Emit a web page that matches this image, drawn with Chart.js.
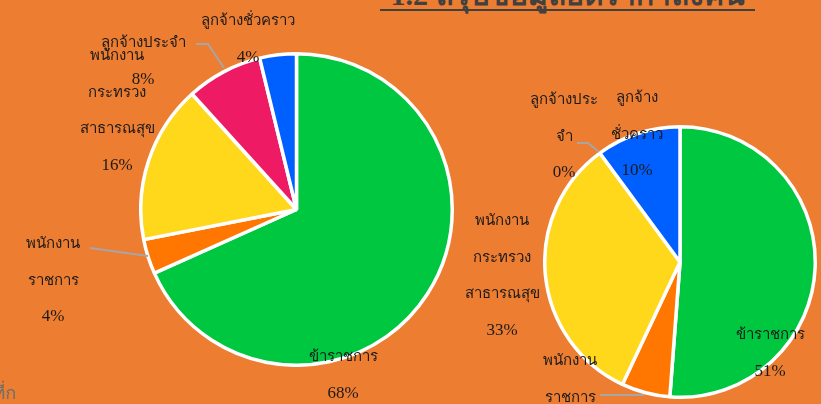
<!DOCTYPE html>
<html>
<head>
<meta charset="utf-8">
<script src="https://cdn.jsdelivr.net/npm/chart.js@4.4.0/dist/chart.umd.min.js"></script>
<style>
  html,body{margin:0;padding:0;}
  body{width:821px;height:404px;background:#ED7D31;position:relative;overflow:hidden;font-family:"Liberation Serif","DejaVu Serif",serif;}
  .cv{position:absolute;}
  .lbl{position:absolute;text-align:center;color:#1a1a1a;font-size:17px;line-height:36.5px;white-space:nowrap;}
  .lbl .th{font-size:15px;}
  #title{position:absolute;left:380px;width:375px;top:-29px;text-align:center;font-size:30px;font-weight:bold;color:#404040;white-space:nowrap;}
  #uline{position:absolute;left:380px;width:375px;top:9px;height:2px;background:#404040;}
  #foot{position:absolute;right:805px;top:378px;font-size:18px;color:#6F6F6F;white-space:nowrap;}
  svg{position:absolute;left:0;top:0;}
</style>
</head>
<body>
<div id="title">1.2 สรุปข้อมูลอัตรากำลังคน</div>
<div id="uline"></div>
<div id="foot">ที่ก</div>
<canvas id="c1" class="cv" style="left:139px;top:52px;" width="315" height="315"></canvas>
<canvas id="c2" class="cv" style="left:543px;top:125px;" width="274" height="274"></canvas>
<svg width="821" height="404">
  <polyline points="196,44 208,44 224,68" fill="none" stroke="#A6A6A6" stroke-width="2"/>
  <polyline points="90,248 148,256" fill="none" stroke="#A6A6A6" stroke-width="2"/>
  <polyline points="577,143 588,143 599,152" fill="none" stroke="#A6A6A6" stroke-width="2"/>
  <polyline points="600,395 644,395" fill="none" stroke="#A6A6A6" stroke-width="2"/>
</svg>
<div id="labels"></div>
<script>
// ---- data ----
const categories = ['ข้าราชการ','พนักงานราชการ','พนักงานกระทรวงสาธารณสุข','ลูกจ้างประจำ','ลูกจ้างชั่วคราว'];
const leftValues  = [68.3, 3.6, 16.4, 7.9, 3.8];
const rightValues = [51.2, 5.8, 32.9, 0, 10.1];
const leftLabelLines = [['ข้าราชการ'],['พนักงาน','ราชการ'],['พนักงาน','กระทรวง','สาธารณสุข'],['ลูกจ้างประจำ'],['ลูกจ้างชั่วคราว']];
const rightLabelLines = [['ข้าราชการ'],['พนักงาน','ราชการ'],['พนักงาน','กระทรวง','สาธารณสุข'],['ลูกจ้างประ','จำ'],['ลูกจ้าง','ชั่วคราว']];
const sliceColors = ['#00C740','#FF7700','#FFD81C','#EE1B64','#0060FF'];

// ---- layout (label block centre x, first line centre y) ----
const leftLabelPos  = [[343,356],[53,243],[117,55],[143,42],[248,20]];
const rightLabelPos = [[770,334],[570,360],[502,220],[564,99],[637,97]];

function pct(vals,i){const t=vals.reduce((a,b)=>a+b,0);return Math.round(vals[i]/t*100)+'%';}

function makePie(id, vals){
  new Chart(document.getElementById(id),{
    type:'pie',
    data:{labels:categories,datasets:[{data:vals,backgroundColor:sliceColors,borderColor:'#FFFFFF',borderWidth:3.5}]},
    options:{responsive:false,animation:false,layout:{padding:0},
      plugins:{legend:{display:false},tooltip:{enabled:false}}}
  });
}
makePie('c1', leftValues);
makePie('c2', rightValues);

const holder=document.getElementById('labels');
function addLabels(lines, pos, vals){
  lines.forEach((ls,i)=>{
    const d=document.createElement('div');
    d.className='lbl';
    d.innerHTML=ls.map(s=>'<span class="th">'+s+'</span>').concat([pct(vals,i)]).join('<br>');
    holder.appendChild(d);
    const w=d.offsetWidth;
    d.style.left=(pos[i][0]-w/2)+'px';
    d.style.top=(pos[i][1]-18)+'px';
  });
}
addLabels(leftLabelLines,leftLabelPos,leftValues);
addLabels(rightLabelLines,rightLabelPos,rightValues);
</script>
</body>
</html>
